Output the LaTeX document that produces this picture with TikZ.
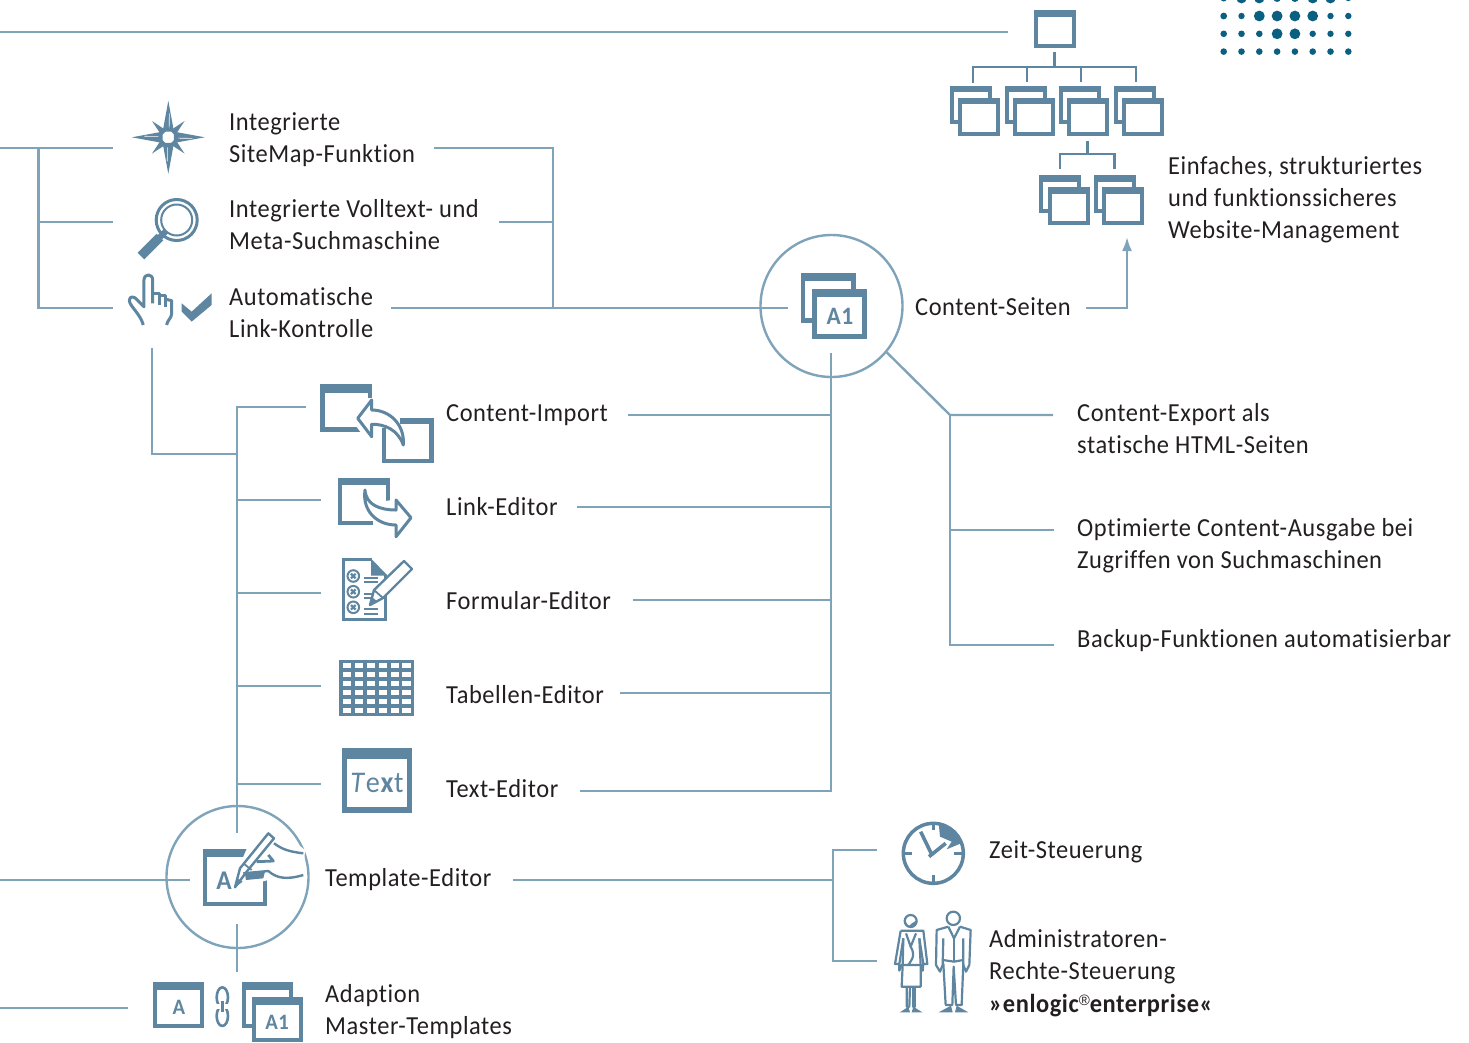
\documentclass[tikz,border=0pt]{standalone}
\usepackage{fontspec}
\usetikzlibrary{arrows.meta}
\setmainfont[FakeStretch=0.94,LetterSpace=2.2,Ligatures=NoCommon]{Carlito}
\newfontfamily\regfont{Liberation Sans}
\definecolor{linecol}{HTML}{7FA3B9}
\definecolor{iconcol}{HTML}{5F86A0}
\definecolor{dotcol}{HTML}{0B5F80}
\definecolor{txtcol}{HTML}{231F20}
\tikzset{
  conn/.style={draw=linecol,line width=2.4pt},
  orgline/.style={draw=iconcol,line width=2.2pt},
  iconline/.style={draw=iconcol,line width=3pt,line join=round,fill=none},
  hub/.style={circle,draw=linecol,line width=2.4pt,minimum size=142pt,inner sep=0pt},
  lbl/.style={anchor=base west,inner sep=0pt,align=left,text=txtcol,yshift=0.5pt,font=\fontsize{26}{32}\selectfont},
  glyph/.style={inner sep=0pt,text=iconcol,font=\fontsize{25}{25}\selectfont\bfseries}
}
% window icon: x1 y1 x2 y2 border title
\newcommand{\winbox}[6]{
  \fill [iconcol] (#1,-#2) rectangle (#3,-#4);
  \fill [white] (#1+#5,-#2-#6) rectangle (#3-#5,-#4+#5);
}
\begin{document}
\begin{tikzpicture}[x=1pt,y=1pt]
\useasboundingbox (0,0) rectangle (1469,-1042);
% dots
\foreach \r [count=\i from 0] in {3.3,5.2,5.2,3.8,3.8,5.2,5.2,3} \fill [dotcol] (1223.7+17.8*\i,1.8) circle (\r);
\foreach \r [count=\i from 0] in {3.4,3.2,5.4,5.4,5.4,5.4,3.2,3.2} \fill [dotcol] (1223.7+17.8*\i,-16) circle (\r);
\foreach \r [count=\i from 0] in {3.3,3.3,3.3,5.4,5.4,3.2,3.2,3.2} \fill [dotcol] (1223.7+17.8*\i,-33.8) circle (\r);
\foreach \i in {0,...,7} \fill [dotcol] (1223.7+17.8*\i,-51.6) circle (3.3);
% hubs
\node [hub] (seiten) at (831.5,-306) {};
\node [hub] (template) at (237.5,-877) {};
% labels
\node [lbl] (sitemap) at (229,-163) {Integrierte\\SiteMap-Funktion};
\node [lbl] (volltext) at (229,-250) {Integrierte Volltext- und\\Meta-Suchmaschine};
\node [lbl] (kontrolle) at (229,-338) {Automatische\\Link-Kontrolle};
\node [lbl] (import) at (446,-422) {Content-Import};
\node [lbl] (linked) at (446,-516) {Link-Editor};
\node [lbl] (formular) at (446,-610) {Formular-Editor};
\node [lbl] (tabellen) at (446,-704) {Tabellen-Editor};
\node [lbl] (texted) at (446,-798) {Text-Editor};
\node [lbl] (templatetxt) at (325,-887) {Template-Editor};
\node [lbl] (adaption) at (325,-1035) {Adaption\\Master-Templates};
\node [lbl] (seitentxt) at (915,-316) {Content-Seiten};
\node [lbl] (einfach) at (1168,-239) {Einfaches, strukturiertes\\und funktionssicheres\\Website-Management};
\node [lbl] (export) at (1077,-454) {Content-Export als\\statische HTML-Seiten};
\node [lbl] (ausgabe) at (1077,-569) {Optimierte Content-Ausgabe bei\\Zugriffen von Suchmaschinen};
\node [lbl] (backup) at (1077,-648) {Backup-Funktionen automatisierbar};
\node [lbl] (zeit) at (989,-859) {Zeit-Steuerung};
\node [lbl,font=\fontsize{26}{32.6}\selectfont] (admin) at (989,-1013) {Administratoren-\\Rechte-Steuerung\\\textbf{»enlogic\raisebox{0.55ex}{\regfont\fontsize{15}{15}\selectfont\mdseries ®}enterprise«}};
% line ends
\coordinate (topA) at (0,-32);
\coordinate (topB) at (1008,-32);
\coordinate (leftA) at (0,-148);
\coordinate (leftT) at (38.5,-148);
\coordinate (leftM) at (38.5,-222);
\coordinate (leftB) at (38.5,-308);
\coordinate (starEnd) at (113,-148);
\coordinate (lensEnd) at (113,-222);
\coordinate (handEnd) at (113,-308);
\coordinate (mapEnd) at (434,-148);
\coordinate (mapTurn) at (553,-148);
\coordinate (vollEnd) at (499,-222);
\coordinate (vollJoin) at (553,-222);
\coordinate (kontrEnd) at (391,-308);
\coordinate (kontrJoin) at (553,-308);
\coordinate (seitenIn) at (788,-308);
\coordinate (seitenOut) at (1086,-308);
\coordinate (arrowTurn) at (1127,-308);
\coordinate (arrowTip) at (1127,-237);
\coordinate (trunkTop) at (831,-353);
\coordinate (trunkLow) at (831,-791);
\coordinate (textEnd) at (580,-791);
\coordinate (impJoin) at (831,-415);
\coordinate (impEnd) at (628,-415);
\coordinate (linkJoin) at (831,-507);
\coordinate (linkEnd) at (577,-507);
\coordinate (formJoin) at (831,-600);
\coordinate (formEnd) at (633,-600);
\coordinate (tabJoin) at (831,-693);
\coordinate (tabEnd) at (620,-693);
\coordinate (expTurn) at (950,-415);
\coordinate (expEnd) at (1053,-415);
\coordinate (ausJoin) at (950,-530);
\coordinate (ausEnd) at (1054,-530);
\coordinate (backTurn) at (950,-645);
\coordinate (backEnd) at (1054,-645);
\coordinate (handDown) at (152,-348);
\coordinate (handTurn) at (152,-454);
\coordinate (handJoin) at (237,-454);
\coordinate (leftTop) at (237,-407);
\coordinate (icoImp) at (306,-407);
\coordinate (leftLow) at (237,-833);
\coordinate (lnkJoin) at (237,-500);
\coordinate (icoLnk) at (321,-500);
\coordinate (frmJoin) at (237,-593);
\coordinate (icoFrm) at (321,-593);
\coordinate (tblJoin) at (237,-686);
\coordinate (icoTbl) at (321,-686);
\coordinate (txtJoin) at (237,-784);
\coordinate (icoTxt) at (321,-784);
\coordinate (tplA) at (0,-880);
\coordinate (tplB) at (190,-880);
\coordinate (tplDown) at (237,-924);
\coordinate (tplLow) at (237,-972);
\coordinate (adpA) at (0,-1008);
\coordinate (adpB) at (128,-1008);
\coordinate (tplOut) at (513,-880);
\coordinate (tplJoin) at (833,-880);
\coordinate (zeitTurn) at (833,-850);
\coordinate (zeitEnd) at (877,-850);
\coordinate (admTurn) at (833,-961);
\coordinate (admEnd) at (877,-961);
% connectors
\draw [conn] (topA) -- (topB);
\draw [conn] (leftA) -- (starEnd);
\draw [conn] (leftT) -- (leftB) -- (handEnd);
\draw [conn] (leftM) -- (lensEnd);
\draw [conn] (mapEnd) -- (mapTurn) -- (kontrJoin);
\draw [conn] (vollEnd) -- (vollJoin);
\draw [conn] (kontrEnd) -- (seitenIn);
\draw [conn,-{Latex[length=14pt,width=10pt]}] (seitenOut) -- (arrowTurn) -- (arrowTip);
\draw [conn] (trunkTop) -- (trunkLow) -- (textEnd);
\draw [conn] (impJoin) -- (impEnd);
\draw [conn] (linkJoin) -- (linkEnd);
\draw [conn] (formJoin) -- (formEnd);
\draw [conn] (tabJoin) -- (tabEnd);
\draw [conn] (seiten.-40) -- (expTurn) -- (expEnd);
\draw [conn] (expTurn) -- (backTurn) -- (backEnd);
\draw [conn] (ausJoin) -- (ausEnd);
\draw [conn] (handDown) -- (handTurn) -- (handJoin);
\draw [conn] (icoImp) -- (leftTop) -- (leftLow);
\draw [conn] (lnkJoin) -- (icoLnk);
\draw [conn] (frmJoin) -- (icoFrm);
\draw [conn] (tblJoin) -- (icoTbl);
\draw [conn] (txtJoin) -- (icoTxt);
\draw [conn] (tplA) -- (tplB);
\draw [conn] (tplDown) -- (tplLow);
\draw [conn] (adpA) -- (adpB);
\draw [conn] (tplOut) -- (tplJoin);
\draw [conn] (zeitEnd) -- (zeitTurn) -- (admTurn) -- (admEnd);
% site tree
\winbox{1034.3}{10}{1076}{48}{4}{6.7}
\coordinate (rootDown) at (1054.5,-52);
\coordinate (rootBar) at (1054.5,-67);
\coordinate (barL) at (973,-67);
\coordinate (barR) at (1136,-67);
\draw [orgline] (rootDown) -- (rootBar);
\draw [orgline] (973,-83) -- (barL) -- (barR) -- (1136,-82);
\draw [orgline] (1027,-67) -- (1027,-82);
\draw [orgline] (1081,-67) -- (1081,-82);
\foreach \x in {950,1004.5,1059,1113.5} {
  \winbox{\x}{85.5}{\x+42}{123.6}{4}{6.7}
  \winbox{\x+8.3}{97.7}{\x+50.3}{135.7}{4}{6.7}
}
\draw [orgline] (1087.5,-141) -- (1087.5,-154);
\draw [orgline] (1060,-169) -- (1060,-154) -- (1114.5,-154) -- (1114.5,-169);
\foreach \x in {1039.3,1093.8} {
  \winbox{\x}{175}{\x+42}{213}{4}{6.7}
  \winbox{\x+8.3}{187}{\x+50.3}{225}{4}{6.7}
}
% content pages icon
\winbox{801}{273.3}{855.7}{322.7}{4.3}{8}
\winbox{812.3}{289}{866.7}{338.7}{4.3}{8}
\node [glyph] (aone) at (840,-316) {A1};
% star
\begin{scope}[shift={(168.3,-137.3)}]
\foreach \a in {0,90,180,270} {
  \fill [iconcol] (\a+45:23) -- (\a+15:7) -- (\a+75:7) -- cycle;
  \fill [iconcol] (\a:36.5) -- (\a+45:8) -- (\a-45:8) -- cycle;
}
\foreach \a in {0,90,180,270} \draw [white,line width=0.6pt] (\a-5:10) -- (\a-2.5:24);
\end{scope}
% lens
\draw [iconcol,line width=3pt] (176.7,-220) circle (20.5);
\draw [iconcol,line width=2pt] (176.7,-220) circle (15.5);
\draw [iconcol,line width=6pt] (166,-231) -- (158,-239);
\draw [iconcol,line width=9.5pt] (160,-237) -- (141,-256);
% hand
\begin{scope}[shift={(110,-90)},scale=0.3333]
\draw [iconline] (100,-705) .. controls (90,-670) and (60,-650) .. (58,-632) .. controls (58,-618) and (72,-618) .. (80,-628) -- (102,-650) -- (102,-570) .. controls (102,-550) and (128,-550) .. (128,-570) -- (128,-640);
\draw [iconline] (128,-610) -- (150,-610) -- (150,-645);
\draw [iconline] (150,-618) -- (168,-618) -- (168,-650);
\draw [iconline] (168,-628) -- (185,-632) -- (185,-670) .. controls (185,-685) and (172,-690) .. (170,-705);
\fill [iconcol] (215,-640) -- (245,-665) -- (305,-610) -- (305,-645) -- (245,-695) -- (215,-665) -- cycle;
\end{scope}
% import icon
\fill [iconcol] (320,-384.3) rectangle (372.3,-431.7);
\fill [white] (324.5,-393) rectangle (367.8,-427.2);
\fill [iconcol] (381.7,-417.7) rectangle (434,-463.3);
\fill [white] (386.4,-424.3) rectangle (429.3,-458.8);
\fill [white] (362,-434) -- (350,-418) -- (368,-398) -- (376,-398) -- (376,-434) -- cycle;
\fill [white] (376,-410) -- (400,-410) -- (400,-428) -- (376,-428) -- cycle;
\draw [iconline,fill=white] (357.7,-418.3) -- (371.7,-400) -- (371.7,-410) .. controls (390,-410) and (405,-425) .. (403.3,-445) .. controls (398,-430) and (385,-424) .. (371.7,-424.3) -- (371.7,-436.7) -- cycle;
% link icon
\fill [iconcol] (338.3,-477.7) rectangle (390,-525);
\fill [white] (342.3,-485) rectangle (386,-521);
\fill [white] (373,-503) -- (392,-500) -- (392,-527) -- (373,-527) -- cycle;
\draw [iconline,fill=white] (365,-490) .. controls (366,-505) and (380,-510) .. (396,-510) -- (396,-500) -- (411,-517.7) -- (396,-536.7) -- (396,-525) .. controls (378,-525) and (362,-512) .. (365,-490) -- cycle;
% form icon
\draw [iconcol,line width=3pt] (371.7,-559.8) -- (343.2,-559.8) -- (343.2,-619.5) -- (385.8,-619.5) -- (385.8,-575);
\fill [iconcol] (371,-558.5) -- (387.5,-575.5) -- (371,-575.5) -- cycle;
\foreach \y in {576,591.7,607.3} {
  \draw [iconcol,line width=2pt] (353.3,-\y) circle (5.8);
  \draw [iconcol,line width=2.2pt] (351,-\y-2.3) -- (355.6,-\y+2.3);
  \draw [iconcol,line width=2.2pt] (351,-\y+2.3) -- (355.6,-\y-2.3);
  \draw [iconcol,line width=2pt] (364,-\y-1.8) -- (378,-\y-1.8);
  \draw [iconcol,line width=2pt] (364,-\y-6.4) -- (378,-\y-6.4);
}
\draw [iconline,fill=white,line width=2.4pt] (370,-605) -- (374,-590) -- (404,-561) -- (412,-569) -- (383,-598) -- cycle;
\draw [iconcol,line width=1.8pt] (374,-590) -- (383,-598);
\fill [iconcol] (370,-605) -- (372,-597) -- (378,-602) -- cycle;
% table icon
\fill [iconcol] (339,-660) rectangle (414.3,-716);
\foreach \i in {0,...,5} \foreach \j in {0,...,5}
  \fill [white] (342.7+11.95*\i,-663.3-9*\j) rectangle (351.4+11.95*\i,-668.4-9*\j);
% text icon
\winbox{341.7}{747.7}{412.3}{812.7}{5.6}{11.6}
\node [inner sep=0pt,text=iconcol,font=\fontsize{30}{30}\selectfont] (textglyph) at (377,-783) {\textit{T}e\textbf{x}t};
% template icon
\winbox{203.3}{849}{266.7}{905.7}{4}{8}
\begin{scope}[shift={(140,-800)},scale=0.3333]
\fill [white] (325,-135) -- (420,-90) -- (495,-150) -- (490,-235) -- (385,-240) -- (285,-265) -- (295,-205) -- cycle;
\draw [iconline,line width=2.4pt] (285,-262) -- (300,-205) -- (385,-100) -- (402,-115) -- (320,-215) -- cycle;
\draw [iconline,line width=1.8pt] (310,-190) -- (335,-210);
\fill [iconcol] (285,-262) -- (292,-235) -- (308,-245) -- cycle;
\draw [iconline,line width=2.4pt] (310,-220) -- (385,-213) .. controls (410,-235) and (440,-240) .. (490,-225);
\draw [iconline,line width=2.4pt] (402,-130) .. controls (430,-150) and (450,-155) .. (490,-160);
\draw [iconline,line width=2.8pt] (350,-185) -- (400,-183) -- (385,-165);
\fill [iconcol] (315,-222) -- (375,-215) -- (370,-235) -- (318,-240) -- cycle;
\end{scope}
\node [glyph,font=\fontsize{27}{27}\selectfont\bfseries] (aglyph) at (224,-881) {A};
% adaption icons
\winbox{153.3}{981.7}{204.3}{1028.3}{4}{8}
\node [glyph,font=\fontsize{22}{22}\selectfont\bfseries] (asmall) at (179,-1007) {A};
\begin{scope}[shift={(140,-800)},scale=0.3333]
\draw [iconline,line width=2.6pt] (247,-592) ellipse (17 and 30);
\draw [iconline,line width=2.6pt] (247,-648) ellipse (17 and 30);
\fill [white] (224,-612) rectangle (270,-628);
\draw [iconcol,line width=2.6pt] (247,-603) -- (247,-637);
\end{scope}
\winbox{241.7}{981.7}{292.7}{1028}{4}{8}
\winbox{251.7}{996.7}{302.7}{1041.7}{4}{8}
\node [glyph,font=\fontsize{22}{22}\selectfont\bfseries] (aonesmall) at (277,-1022) {A1};
% clock
\begin{scope}[shift={(880,-810)},scale=0.3333]
\fill [iconcol] (176,-39.4) arc (80:20:92) -- (200,-118) -- (215,-95) -- (180,-80) -- cycle;
\draw [iconcol,line width=3.5pt] (160,-130) circle (90);
\draw [iconcol,line width=2.8pt] (160,-40) -- (160,-60);
\draw [iconcol,line width=2.8pt] (160,-220) -- (160,-195);
\draw [iconcol,line width=2.8pt] (70,-130) -- (97,-130);
\draw [iconcol,line width=2.8pt] (250,-130) -- (222,-130);
\draw [white,line width=6pt] (195,-100) -- (155,-135);
\draw [iconcol,line width=3.6pt] (122,-65) -- (157,-137);
\draw [iconcol,line width=3.6pt] (197,-100) -- (147,-140);
% woman
\draw [iconcol,line width=2.2pt] (92,-333) circle (18);
\fill [iconcol] (75,-330) .. controls (75,-355) and (110,-355) .. (110,-330) .. controls (100,-340) and (90,-340) .. (85,-350) -- cycle;
\draw [iconline,line width=2.2pt] (62,-362) -- (130,-362) -- (142,-462) -- (130,-462) -- (118,-385);
\draw [iconline,line width=2.2pt] (62,-362) -- (45,-462) -- (58,-462) -- (70,-385);
\draw [iconline,line width=2.2pt] (58,-462) -- (58,-482) -- (65,-465) -- (122,-465) -- (128,-482) -- (130,-462);
\draw [iconline,line width=2.2pt] (70,-385) -- (68,-465);
\draw [iconline,line width=2.2pt] (118,-385) -- (122,-465);
\draw [iconline,line width=2.2pt] (78,-370) -- (92,-410) -- (108,-370);
\draw [iconline,line width=2.2pt] (92,-410) .. controls (110,-440) and (90,-455) .. (85,-465);
\draw [iconline,line width=2.2pt] (68,-465) -- (65,-530) -- (122,-530) -- (122,-465);
\draw [iconline,line width=2.2pt] (80,-530) -- (80,-590) -- (88,-590) -- (90,-530);
\draw [iconline,line width=2.2pt] (98,-530) -- (98,-590) -- (106,-590) -- (106,-530);
\fill [iconcol] (60,-607) -- (85,-590) -- (90,-607) -- cycle;
\fill [iconcol] (95,-607) -- (100,-590) -- (127,-607) -- cycle;
% man
\draw [iconcol,line width=2.2pt] (220,-325) circle (20);
\draw [iconline,line width=2.2pt] (205,-350) -- (170,-360) -- (168,-465) -- (180,-485) -- (188,-465) -- (190,-385);
\draw [iconline,line width=2.2pt] (240,-350) -- (272,-360) -- (268,-465) -- (258,-485) -- (250,-465) -- (250,-385);
\draw [iconline,line width=2.2pt] (205,-350) -- (222,-385) -- (240,-350);
\draw [iconline,line width=2.2pt] (222,-385) -- (222,-455);
\draw [iconline,line width=2.2pt] (188,-450) -- (222,-455) -- (250,-450);
\draw [iconline,line width=2.2pt] (190,-460) -- (197,-585) -- (217,-585) -- (221,-470) -- (228,-585) -- (245,-585) -- (250,-460);
\fill [iconcol] (176,-607) -- (213,-587) -- (218,-607) -- cycle;
\fill [iconcol] (225,-607) -- (230,-587) -- (265,-607) -- cycle;
\end{scope}
\end{tikzpicture}
\end{document}
